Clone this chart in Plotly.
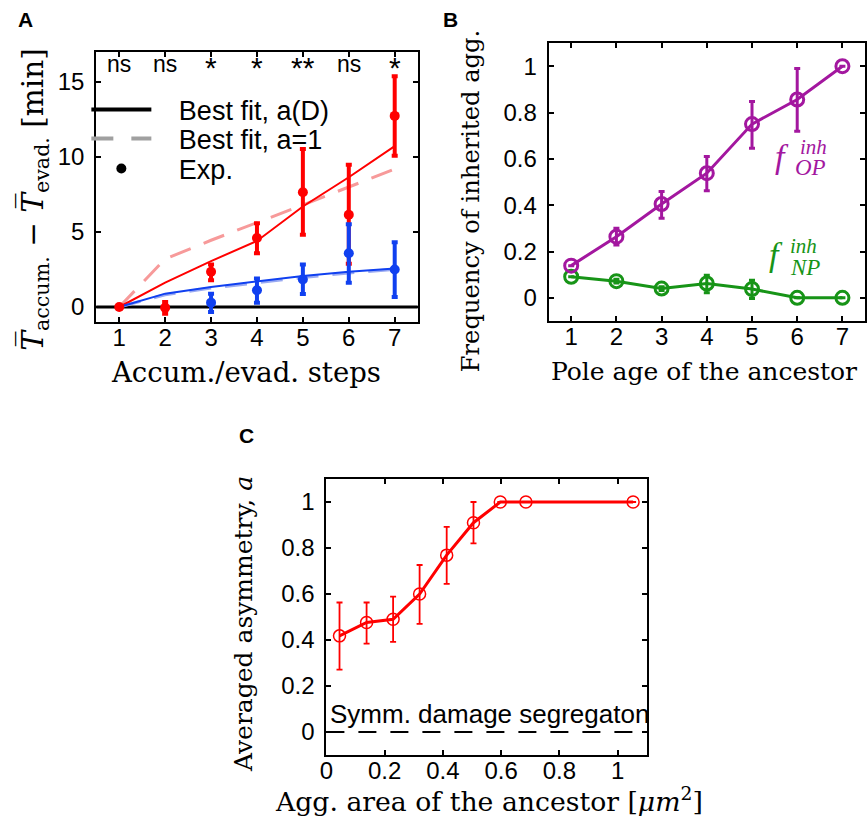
import plotly.graph_objects as go

W, H = 867, 828
def px(x): return x / W
def py(y): return 1 - y / H

# ---------------- Data: panel A ----------------
steps = [1, 2, 3, 4, 5, 6, 7]
red_exp = [0, -0.05, 2.35, 4.6, 7.65, 6.15, 12.74]
red_exp_hi = [0, 0.39, 0.49, 0.99, 2.88, 3.33, 2.64]
red_exp_lo = [0, 0.40, 0.56, 1.02, 2.84, 3.27, 2.66]
blue_steps = [3, 4, 5, 6, 7]
blue_exp = [0.29, 1.12, 1.83, 3.58, 2.5]
blue_exp_hi = [0.60, 0.78, 1.01, 1.94, 1.81]
blue_exp_lo = [0.63, 0.83, 0.96, 1.97, 1.83]
red_fit_aD = [0, 1.63, 3.06, 4.4, 6.7, 8.65, 10.73]
red_fit_a1 = [0, 3.2, 4.45, 5.6, 6.8, 8.0, 9.2]
blue_fit_aD = [0, 0.89, 1.34, 1.72, 2.06, 2.35, 2.57]
blue_fit_a1 = [0, 0.82, 1.26, 1.62, 1.97, 2.27, 2.5]
signif = ["ns", "ns", "*", "*", "**", "ns", "*"]
legend_names = ["Best fit, a(D)", "Best fit, a=1", "Exp."]

# ---------------- Data: panel B ----------------
pole_age = [1, 2, 3, 4, 5, 6, 7]
f_op = [0.139, 0.264, 0.405, 0.538, 0.75, 0.856, 1.0]
f_op_hi = [0, 0.036, 0.054, 0.072, 0.098, 0.134, 0]
f_op_lo = [0, 0.036, 0.062, 0.076, 0.104, 0.137, 0]
f_np = [0.091, 0.072, 0.04, 0.062, 0.038, 0.0, 0.0]
f_np_hi = [0, 0.008, 0.008, 0.036, 0.038, 0, 0]
f_np_lo = [0, 0.008, 0.008, 0.040, 0.041, 0, 0]

# ---------------- Data: panel C ----------------
agg_area = [0.045, 0.138, 0.229, 0.32, 0.413, 0.505, 0.597, 0.685, 1.053]
asym = [0.418, 0.476, 0.49, 0.60, 0.769, 0.91, 1.0, 1.0, 1.0]
asym_hi = [0.145, 0.087, 0.099, 0.126, 0.123, 0.09, 0, 0, 0]
asym_lo = [0.147, 0.092, 0.098, 0.13, 0.125, 0.09, 0, 0, 0]
frac_ticks = [0, 0.2, 0.4, 0.6, 0.8, 1]
frac_labels = ["0", "0.2", "0.4", "0.6", "0.8", "1"]

RED = "#ff0000"
LRED = "#f79a9a"
BLUE = "#1040f0"
LBLUE = "#9aaaf2"
PURPLE = "#a3179f"
GREEN = "#179417"

SANS = "Liberation Sans, Arial, sans-serif"
SERIF = "DejaVu Serif, serif"
MSERIF = "Liberation Serif, serif"

fig = go.Figure()

# ---- Panel A traces ----
fig.add_trace(go.Scatter(x=steps, y=red_fit_a1, mode="lines", xaxis="x", yaxis="y",
                         line=dict(color=LRED, width=3, dash="22px,14px"), showlegend=False))
fig.add_trace(go.Scatter(x=steps, y=blue_fit_a1, mode="lines", xaxis="x", yaxis="y",
                         line=dict(color=LBLUE, width=3, dash="22px,14px"), showlegend=False))
fig.add_trace(go.Scatter(x=steps, y=red_fit_aD, mode="lines", xaxis="x", yaxis="y",
                         line=dict(color=RED, width=2), showlegend=False))
fig.add_trace(go.Scatter(x=steps, y=blue_fit_aD, mode="lines", xaxis="x", yaxis="y",
                         line=dict(color=BLUE, width=2), showlegend=False))
fig.add_trace(go.Scatter(x=steps, y=red_exp, mode="markers", xaxis="x", yaxis="y",
                         marker=dict(color=RED, size=10),
                         error_y=dict(type="data", array=red_exp_hi, arrayminus=red_exp_lo,
                                      color=RED, thickness=4, width=3),
                         showlegend=False))
fig.add_trace(go.Scatter(x=blue_steps, y=blue_exp, mode="markers", xaxis="x", yaxis="y",
                         marker=dict(color=BLUE, size=10),
                         error_y=dict(type="data", array=blue_exp_hi, arrayminus=blue_exp_lo,
                                      color=BLUE, thickness=4, width=3),
                         showlegend=False))
# legend entries (three single-item legends stacked)
pad = "\u00a0\u00a0\u00a0"
fig.add_trace(go.Scatter(x=[None], y=[None], mode="lines", xaxis="x", yaxis="y",
                         line=dict(color="black", width=4), name=pad + legend_names[0], legend="legend"))
fig.add_trace(go.Scatter(x=[None], y=[None], mode="lines", xaxis="x", yaxis="y",
                         line=dict(color="#a0a0a0", width=4, dash="22px,18px"), name=pad + legend_names[1],
                         legend="legend2"))
fig.add_trace(go.Scatter(x=[None], y=[None], mode="markers", xaxis="x", yaxis="y",
                         marker=dict(color="black", size=10), name=pad + legend_names[2], legend="legend3"))

# ---- Panel B traces ----
fig.add_trace(go.Scatter(x=pole_age, y=f_np, mode="lines+markers", xaxis="x2", yaxis="y2",
                         line=dict(color=GREEN, width=3),
                         marker=dict(symbol="circle-open", size=13, color=GREEN, line=dict(width=3)),
                         error_y=dict(type="data", array=f_np_hi, arrayminus=f_np_lo,
                                      color=GREEN, thickness=3, width=3),
                         showlegend=False))
fig.add_trace(go.Scatter(x=pole_age, y=f_op, mode="lines+markers", xaxis="x2", yaxis="y2",
                         line=dict(color=PURPLE, width=3),
                         marker=dict(symbol="circle-open", size=13, color=PURPLE, line=dict(width=3)),
                         error_y=dict(type="data", array=f_op_hi, arrayminus=f_op_lo,
                                      color=PURPLE, thickness=3, width=3),
                         showlegend=False))

# ---- Panel C traces ----
fig.add_trace(go.Scatter(x=agg_area, y=asym, mode="lines+markers", xaxis="x3", yaxis="y3",
                         line=dict(color=RED, width=3),
                         marker=dict(symbol="circle-open", size=12, color=RED, line=dict(width=1.5)),
                         error_y=dict(type="data", array=asym_hi, arrayminus=asym_lo,
                                      color=RED, thickness=1.8, width=3),
                         showlegend=False))

axis_common = dict(showgrid=False, zeroline=False, showline=True, linecolor="black", linewidth=2,
                   mirror="allticks", ticks="inside", ticklen=5, tickwidth=1.5, tickcolor="black",
                   tickfont=dict(family=SANS, size=24, color="black"))

leg_common = dict(xanchor="left", yanchor="middle", bgcolor="rgba(0,0,0,0)",
                  font=dict(family=SANS, size=27, color="black"), itemwidth=60)

XSO = -7
layout = dict(
    width=W, height=H, autosize=False,
    margin=dict(l=0, r=0, t=0, b=0),
    paper_bgcolor="white", plot_bgcolor="white",
    xaxis=dict(domain=[px(90), px(414)], range=[0.5, 7.5], tickvals=steps, anchor="y",
               ticklabelstandoff=XSO, **axis_common),
    yaxis=dict(domain=[py(322), py(52)], range=[-1, 17], tickvals=[0, 5, 10, 15], anchor="x",
               ticklabelstandoff=5, **axis_common),
    xaxis2=dict(domain=[px(546), px(865)], range=[0.5, 7.5], tickvals=pole_age, anchor="y2",
                ticklabelstandoff=XSO, **axis_common),
    yaxis2=dict(domain=[py(321), py(43)], range=[-0.1, 1.1], tickvals=frac_ticks,
                ticktext=frac_labels, anchor="x2", ticklabelstandoff=5, **axis_common),
    xaxis3=dict(domain=[px(322), px(645)], range=[0, 1.1], tickvals=frac_ticks,
                ticktext=frac_labels, anchor="y3", ticklabelstandoff=XSO, **axis_common),
    yaxis3=dict(domain=[py(755), py(479)], range=[-0.1, 1.1], tickvals=frac_ticks,
                ticktext=frac_labels, anchor="x3", ticklabelstandoff=5, **axis_common),
    legend=dict(x=px(80), y=py(110), **leg_common),
    legend2=dict(x=px(80), y=py(139), **leg_common),
    legend3=dict(x=px(80), y=py(169), **leg_common),
    showlegend=True,
)
fig.update_layout(**layout)

# shapes: zero lines
fig.add_shape(type="line", xref="x domain", yref="y", x0=0, x1=1, y0=0, y1=0,
              line=dict(color="black", width=3), layer="below")
fig.add_shape(type="line", xref="x3 domain", yref="y3", x0=0, x1=1, y0=0, y1=0,
              line=dict(color="black", width=2, dash="18px,14px"), layer="below")

ann = []
# significance labels
for s, st in zip(steps, signif):
    if st == "ns":
        ann.append(dict(x=s, y=16.2, xref="x", yref="y", text=st, showarrow=False,
                        font=dict(family=SANS, size=23, color="black"), xanchor="center", yanchor="middle"))
    else:
        ann.append(dict(x=s, y=15.95, xref="x", yref="y", text=st, showarrow=False,
                        font=dict(family=SANS, size=30, color="black"), xanchor="center", yanchor="middle"))
# panel labels
for lab, x, y in [("A", 19, 20), ("B", 447, 20), ("C", 241, 435)]:
    ann.append(dict(x=px(x), y=py(y), xref="paper", yref="paper", text="<b>%s</b>" % lab, showarrow=False,
                    font=dict(family=SANS, size=21, color="black"), xanchor="center", yanchor="middle"))
# axis titles
T = "<i>T\u0305</i>"
ann += [
    dict(x=px(241), y=py(372), xref="paper", yref="paper", text="Accum./evad. steps", showarrow=False,
         font=dict(family=SERIF, size=27.5, color="black"), xanchor="center", yanchor="middle"),
    dict(x=px(28), y=py(199), xref="paper", yref="paper",
         text=T + "<sub>accum.</sub> \u2212 " + T + "<sub>evad.</sub> [min]", showarrow=False, textangle=-90,
         font=dict(family=SERIF, size=29.5, color="black"), xanchor="center", yanchor="middle"),
    dict(x=px(703), y=py(371), xref="paper", yref="paper", text="Pole age of the ancestor", showarrow=False,
         font=dict(family=SERIF, size=25, color="black"), xanchor="center", yanchor="middle"),
    dict(x=px(468), y=py(201), xref="paper", yref="paper", text="Frequency of inherited agg.", showarrow=False,
         textangle=-90, font=dict(family=SERIF, size=24.2, color="black"), xanchor="center", yanchor="middle"),
    dict(x=px(486), y=py(800), xref="paper", yref="paper",
         text="Agg. area of the ancestor [<i>\u03bcm</i><sup>2</sup>]", showarrow=False,
         font=dict(family=SERIF, size=26.7, color="black"), xanchor="center", yanchor="middle"),
    dict(x=px(238), y=py(624), xref="paper", yref="paper", text="Averaged asymmetry, <i>a</i>", showarrow=False,
         textangle=-90, font=dict(family=SERIF, size=25, color="black"), xanchor="center", yanchor="middle"),
    dict(x=0.005, y=0.077, xref="x3", yref="y3", text="Symm. damage segregaton", showarrow=False,
         font=dict(family=SANS, size=26, color="black"), xanchor="left", yanchor="middle"),
]
# f labels in panel B
for (fx, fy, sx, sy, bx, by, sub, col) in [(5.67, 0.61, 6.35, 0.65, 6.30, 0.562, "OP", PURPLE),
                                           (5.52, 0.185, 6.15, 0.222, 6.17, 0.133, "NP", GREEN)]:
    ann.append(dict(x=fx, y=fy, xref="x2", yref="y2", text="<i>f</i>", showarrow=False,
                    font=dict(family=MSERIF, size=34, color=col), xanchor="center", yanchor="middle"))
    ann.append(dict(x=sx, y=sy, xref="x2", yref="y2", text="<i>inh</i>", showarrow=False,
                    font=dict(family=MSERIF, size=21, color=col), xanchor="center", yanchor="middle"))
    ann.append(dict(x=bx, y=by, xref="x2", yref="y2", text="<i>%s</i>" % sub, showarrow=False,
                    font=dict(family=MSERIF, size=23, color=col), xanchor="center", yanchor="middle"))
fig.update_layout(annotations=ann)

fig.write_html("out.html", config={"displayModeBar": False},
               post_script="document.body.style.margin='0px';")
